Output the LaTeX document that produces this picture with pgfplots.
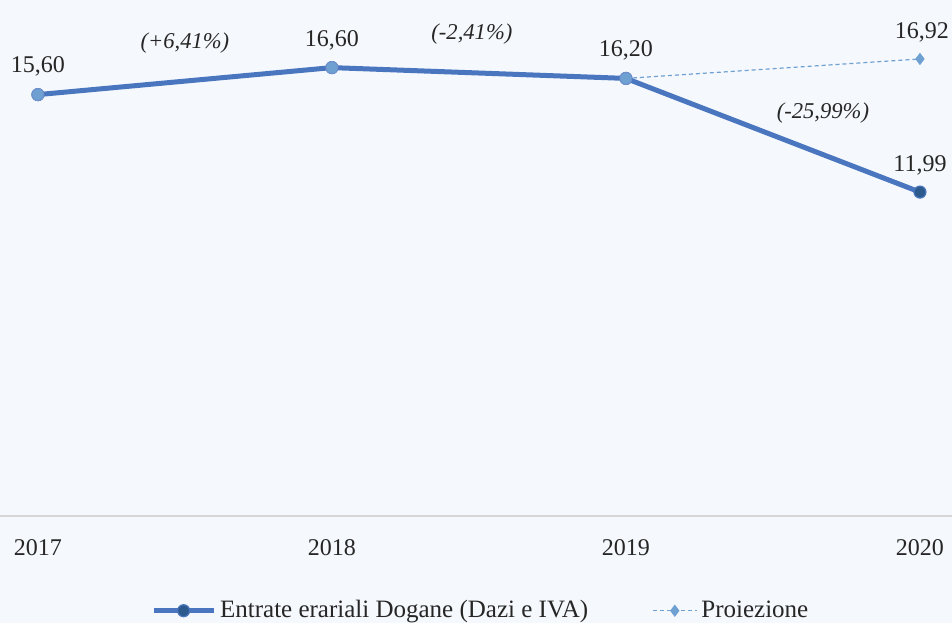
\documentclass[border=0pt]{standalone}
\usepackage{pgfplots}
\pgfplotsset{compat=1.18}
\usepackage{fontspec}
\setmainfont{Liberation Serif}
\definecolor{bg}{HTML}{F5F8FC}
\definecolor{mainblue}{HTML}{4A76BF}
\definecolor{lightblue}{HTML}{6FA0D2}
\definecolor{darkblue}{HTML}{2C5A8C}
\definecolor{axgray}{HTML}{D6D6D6}
\definecolor{txt}{HTML}{262626}
\begin{document}
\begin{tikzpicture}[x=1pt,y=1pt]
\fill[bg] (0,0) rectangle (476,311.5);
\useasboundingbox (0,0) rectangle (476,311.5);
\begin{axis}[
  at={(0,39.7)}, anchor=south west,
  scale only axis, width=476pt, height=256.5pt,
  xmin=2016.871, xmax=2020.109, ymin=0, ymax=19,
  axis x line=bottom, axis y line=none,
  x axis line style={axgray, line width=0.8pt, -},
  xtick={2017,2018,2019,2020},
  xticklabels={2017,2018,2019,2020},
  major tick length=0pt,
  x tick label style={font=\fontsize{12}{14}\selectfont, text=txt, yshift=-8.5pt},
  ytick=\empty,
  clip=false,
  legend style={at={(0.506,-0.185)}, anchor=center, draw=none, fill=none,
    legend columns=2, font=\fontsize{12.5}{14}\selectfont, text=txt,
    /tikz/every even column/.append style={column sep=30pt}},
  legend cell align=left,
]
\addplot[mainblue, line width=2.5pt, mark=*, mark size=3pt,
  mark options={fill=darkblue, draw=mainblue, line width=0.6pt},
  legend image code/.code={\draw[mark repeat=2,mark phase=2] plot coordinates {(0pt,0pt)(15pt,0pt)(30pt,0pt)};}]
  coordinates {(2017,15.60) (2018,16.60) (2019,16.20) (2020,11.99)};
\addlegendentry{Entrate erariali Dogane (Dazi e IVA)}
\addplot[lightblue, line width=0.6pt, dash pattern=on 2pt off 1.5pt,
  mark=diamond*, mark size=2.6pt, mark options={solid, fill=lightblue},
  legend image code/.code={\draw[mark repeat=2,mark phase=2] plot coordinates {(0pt,0pt)(11pt,0pt)(22pt,0pt)};}]
  coordinates {(2019,16.20) (2020,16.92)};
\addlegendentry{Proiezione}
\addplot[forget plot, only marks, mark=*, mark size=3pt,
  mark options={fill=lightblue, draw=mainblue!80, line width=0.5pt}]
  coordinates {(2017,15.60) (2018,16.60) (2019,16.20)};
\begin{scope}[font=\fontsize{12}{14}\selectfont, text=txt]
\node at (axis cs:2017,15.60) [yshift=14pt] {15,60};
\node at (axis cs:2018,16.60) [yshift=13.5pt] {16,60};
\node at (axis cs:2019,16.20) [yshift=14pt] {16,20};
\node at (axis cs:2020,11.99) [yshift=13.5pt] {11,99};
\node at (axis cs:2020,16.92) [yshift=13.5pt, xshift=1pt] {16,92};
\end{scope}
\begin{scope}[font=\fontsize{11.3}{13}\selectfont\itshape, text=txt]
\node at (axis cs:2017.5,17.52) {(+6,41\%)};
\node at (axis cs:2018.476,17.85) {(-2,41\%)};
\node at (axis cs:2019.67,14.92) {(-25,99\%)};
\end{scope}
\end{axis}
\end{tikzpicture}
\end{document}
